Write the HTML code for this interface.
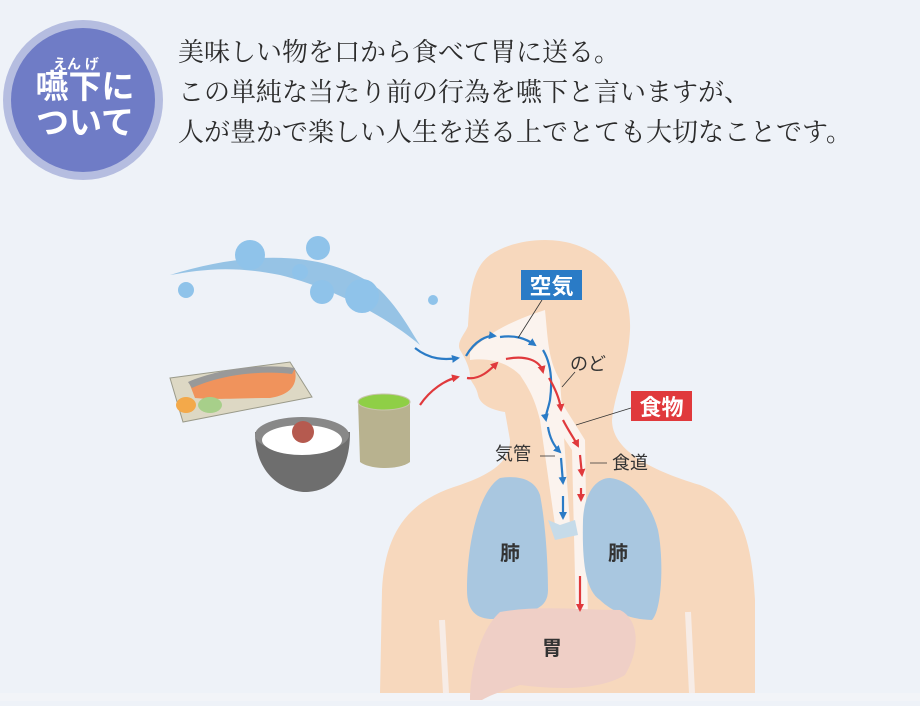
<!DOCTYPE html>
<html><head><meta charset="utf-8"><style>
html,body{margin:0;padding:0;}
body{width:920px;height:701px;overflow:hidden;background:#eef2f8;font-family:"Liberation Sans","Noto Sans CJK JP",sans-serif;}
</style></head><body>
<svg width="920" height="701" viewBox="0 0 920 701" xmlns="http://www.w3.org/2000/svg">
<defs>
<marker id="ab" markerUnits="userSpaceOnUse" markerWidth="8" markerHeight="8" refX="6" refY="4" orient="auto"><path d="M0,0 L8,4 L0,8z" fill="#2a7bc6"/></marker>
<marker id="ar" markerUnits="userSpaceOnUse" markerWidth="8" markerHeight="8" refX="6" refY="4" orient="auto"><path d="M0,0 L8,4 L0,8z" fill="#e0393c"/></marker>
</defs>
<rect width="920" height="701" fill="#eef2f8"/>
<rect x="0" y="693" width="920" height="8" fill="#f2f4f8"/>
<!-- badge -->
<circle cx="83" cy="100" r="80" fill="#b5bde0"/>
<circle cx="83" cy="100" r="72" fill="#6f7cc6"/>
<text x="76" y="69" font-size="14" fill="#fff" font-weight="bold" text-anchor="middle">えん げ</text>
<text x="85" y="98" font-size="33" fill="#fff" font-weight="bold" text-anchor="middle">嚥下に</text>
<text x="85" y="134" font-size="33" fill="#fff" font-weight="bold" text-anchor="middle">ついて</text>
<g font-family="Liberation Serif,Noto Serif CJK SC,serif" font-size="26" fill="#2b2b2b">
<text x="178" y="61">美味しい物を口から食べて胃に送る。</text>
<text x="178" y="101">この単純な当たり前の行為を嚥下と言いますが、</text>
<text x="178" y="141">人が豊かで楽しい人生を送る上でとても大切なことです。</text>
</g>
<!-- swoosh & bubbles -->
<path d="M170,275 C250,250 330,250 380,290 C400,310 410,330 420,345 C390,320 340,290 280,275 C230,265 200,270 170,275z" fill="#7fb6e0" opacity="0.8"/>
<g fill="#8fc3ea">
<circle cx="250" cy="255" r="15"/><circle cx="318" cy="248" r="12"/><circle cx="300" cy="272" r="8"/>
<circle cx="322" cy="292" r="12"/><circle cx="362" cy="296" r="17"/><circle cx="186" cy="290" r="8"/><circle cx="433" cy="300" r="5"/>
</g>
<!-- body -->
<path d="M545,240 C600,240 632,280 630,330 C628,370 615,390 612,420 C612,450 650,470 700,485 C740,500 752,540 755,600 L755,693 L380,693 L382,590 C385,530 410,500 460,485 C495,473 510,460 510,440 L505,412 C492,410 480,405 478,395 C476,385 470,382 470,376 C470,368 465,358 460,350 C456,342 465,334 468,326 C470,300 470,270 490,255 C505,245 525,240 545,240z" fill="#f7d8bd"/>
<!-- airway white -->
<path d="M470,352 C490,330 520,318 545,310 C548,340 548,360 560,380 L570,525 L555,525 L540,420 C535,400 530,390 520,375 C505,360 485,358 470,360z" fill="#fbf3ee"/>
<path d="M548,390 L560,400 L585,440 L588,620 L576,620 L572,450 L545,410z" fill="#fbf3ee"/>
<!-- lungs -->
<path d="M500,478 C520,475 535,480 540,495 C545,520 548,560 548,590 C548,610 530,612 505,618 C480,622 467,615 467,590 C467,540 480,490 500,478z" fill="#a9c7e0"/>
<path d="M610,478 C630,480 650,500 658,530 C664,560 662,610 652,620 C630,620 610,610 600,600 C585,590 582,560 583,520 C584,495 595,478 610,478z" fill="#a9c7e0"/>
<path d="M548,520 L560,525 L575,520 L578,535 L555,540z" fill="#c6dbe9"/>
<!-- stomach -->
<path d="M500,612 C540,605 580,610 620,610 C640,620 640,650 625,675 C600,690 560,690 520,685 C505,690 490,695 482,700 L470,700 C470,670 480,630 500,612z" fill="#efcfc6"/>
<path d="M442,620 L446,693 M688,612 L692,693" stroke="#f7ece6" stroke-width="6"/>
<!-- food -->
<path d="M170,378 L290,362 L312,397 L183,422z" fill="#ddd8c4" stroke="#9a9a8a"/>
<path d="M190,385 C220,375 260,368 295,370 C298,385 290,395 270,398 C240,398 215,400 195,398z" fill="#f0935c"/>
<path d="M188,382 C215,370 260,363 295,368 L292,374 C260,370 220,375 192,388z" fill="#999"/>
<ellipse cx="210" cy="405" rx="12" ry="8" fill="#a7cf8a"/><ellipse cx="186" cy="405" rx="10" ry="8" fill="#f3a94a"/>
<path d="M255,432 C255,480 290,492 305,492 C325,492 350,480 350,432z" fill="#6e6e6e"/>
<ellipse cx="302" cy="435" rx="47" ry="18" fill="#888"/>
<ellipse cx="302" cy="440" rx="40" ry="15" fill="#fff"/>
<circle cx="303" cy="432" r="11" fill="#b55a4f"/>
<path d="M358,400 L410,400 L410,462 C400,470 370,470 360,462z" fill="#b8b28f"/>
<ellipse cx="384" cy="402" rx="26" ry="8" fill="#8fcf46" stroke="#c8c4aa"/>
<!-- arrows blue -->
<g fill="none" stroke="#2a7bc6" stroke-width="2.2">
<path d="M415,348 C430,360 445,360 458,358" marker-end="url(#ab)"/>
<path d="M466,356 C475,340 488,335 495,336" marker-end="url(#ab)"/>
<path d="M500,337 C515,335 525,338 535,345" marker-end="url(#ab)"/>
<path d="M543,350 C552,365 552,385 550,400 C548,410 545,415 546,420" marker-end="url(#ab)"/>
<path d="M548,427 C550,440 556,448 560,452" marker-end="url(#ab)"/>
<path d="M561,458 L563,483" marker-end="url(#ab)"/>
<path d="M563,496 L563,518" marker-end="url(#ab)"/>
</g>
<g fill="none" stroke="#e0393c" stroke-width="2.2">
<path d="M420,405 C430,390 445,380 458,377" marker-end="url(#ar)"/>
<path d="M467,378 C480,380 490,370 497,363" marker-end="url(#ar)"/>
<path d="M506,359 C525,355 540,360 543,372" marker-end="url(#ar)"/>
<path d="M549,378 C556,390 560,400 561,410" marker-end="url(#ar)"/>
<path d="M563,420 C568,430 575,440 578,446" marker-end="url(#ar)"/>
<path d="M580,455 L582,475" marker-end="url(#ar)"/>
<path d="M581,488 L581,500" marker-end="url(#ar)"/>
<path d="M580,576 L580,610" marker-end="url(#ar)"/>
</g>
<!-- labels -->
<line x1="542" y1="300" x2="518" y2="338" stroke="#333" stroke-width="0.8"/>
<rect x="521" y="270" width="61" height="30" fill="#2a7bc6"/>
<text x="551.5" y="294" font-size="22" font-weight="bold" fill="#fff" text-anchor="middle">空気</text>
<line x1="631" y1="408" x2="576" y2="425" stroke="#333" stroke-width="0.8"/>
<rect x="631" y="391" width="61" height="30" fill="#e0393c"/>
<text x="661.5" y="415" font-size="22" font-weight="bold" fill="#fff" text-anchor="middle">食物</text>
<line x1="575" y1="372" x2="562" y2="387" stroke="#333" stroke-width="0.8"/>
<text x="570" y="370" font-size="18" fill="#333">のど</text>
<text x="495" y="460" font-size="18" fill="#333">気管</text>
<line x1="540" y1="456" x2="555" y2="456" stroke="#333" stroke-width="0.8"/>
<text x="612" y="469" font-size="18" fill="#333">食道</text>
<line x1="590" y1="463" x2="607" y2="463" stroke="#333" stroke-width="0.8"/>
<text x="500" y="560" font-size="20" font-weight="bold" fill="#333">肺</text>
<text x="608" y="560" font-size="20" font-weight="bold" fill="#333">肺</text>
<text x="542" y="655" font-size="20" font-weight="bold" fill="#333">胃</text>
</svg>
</body></html>
